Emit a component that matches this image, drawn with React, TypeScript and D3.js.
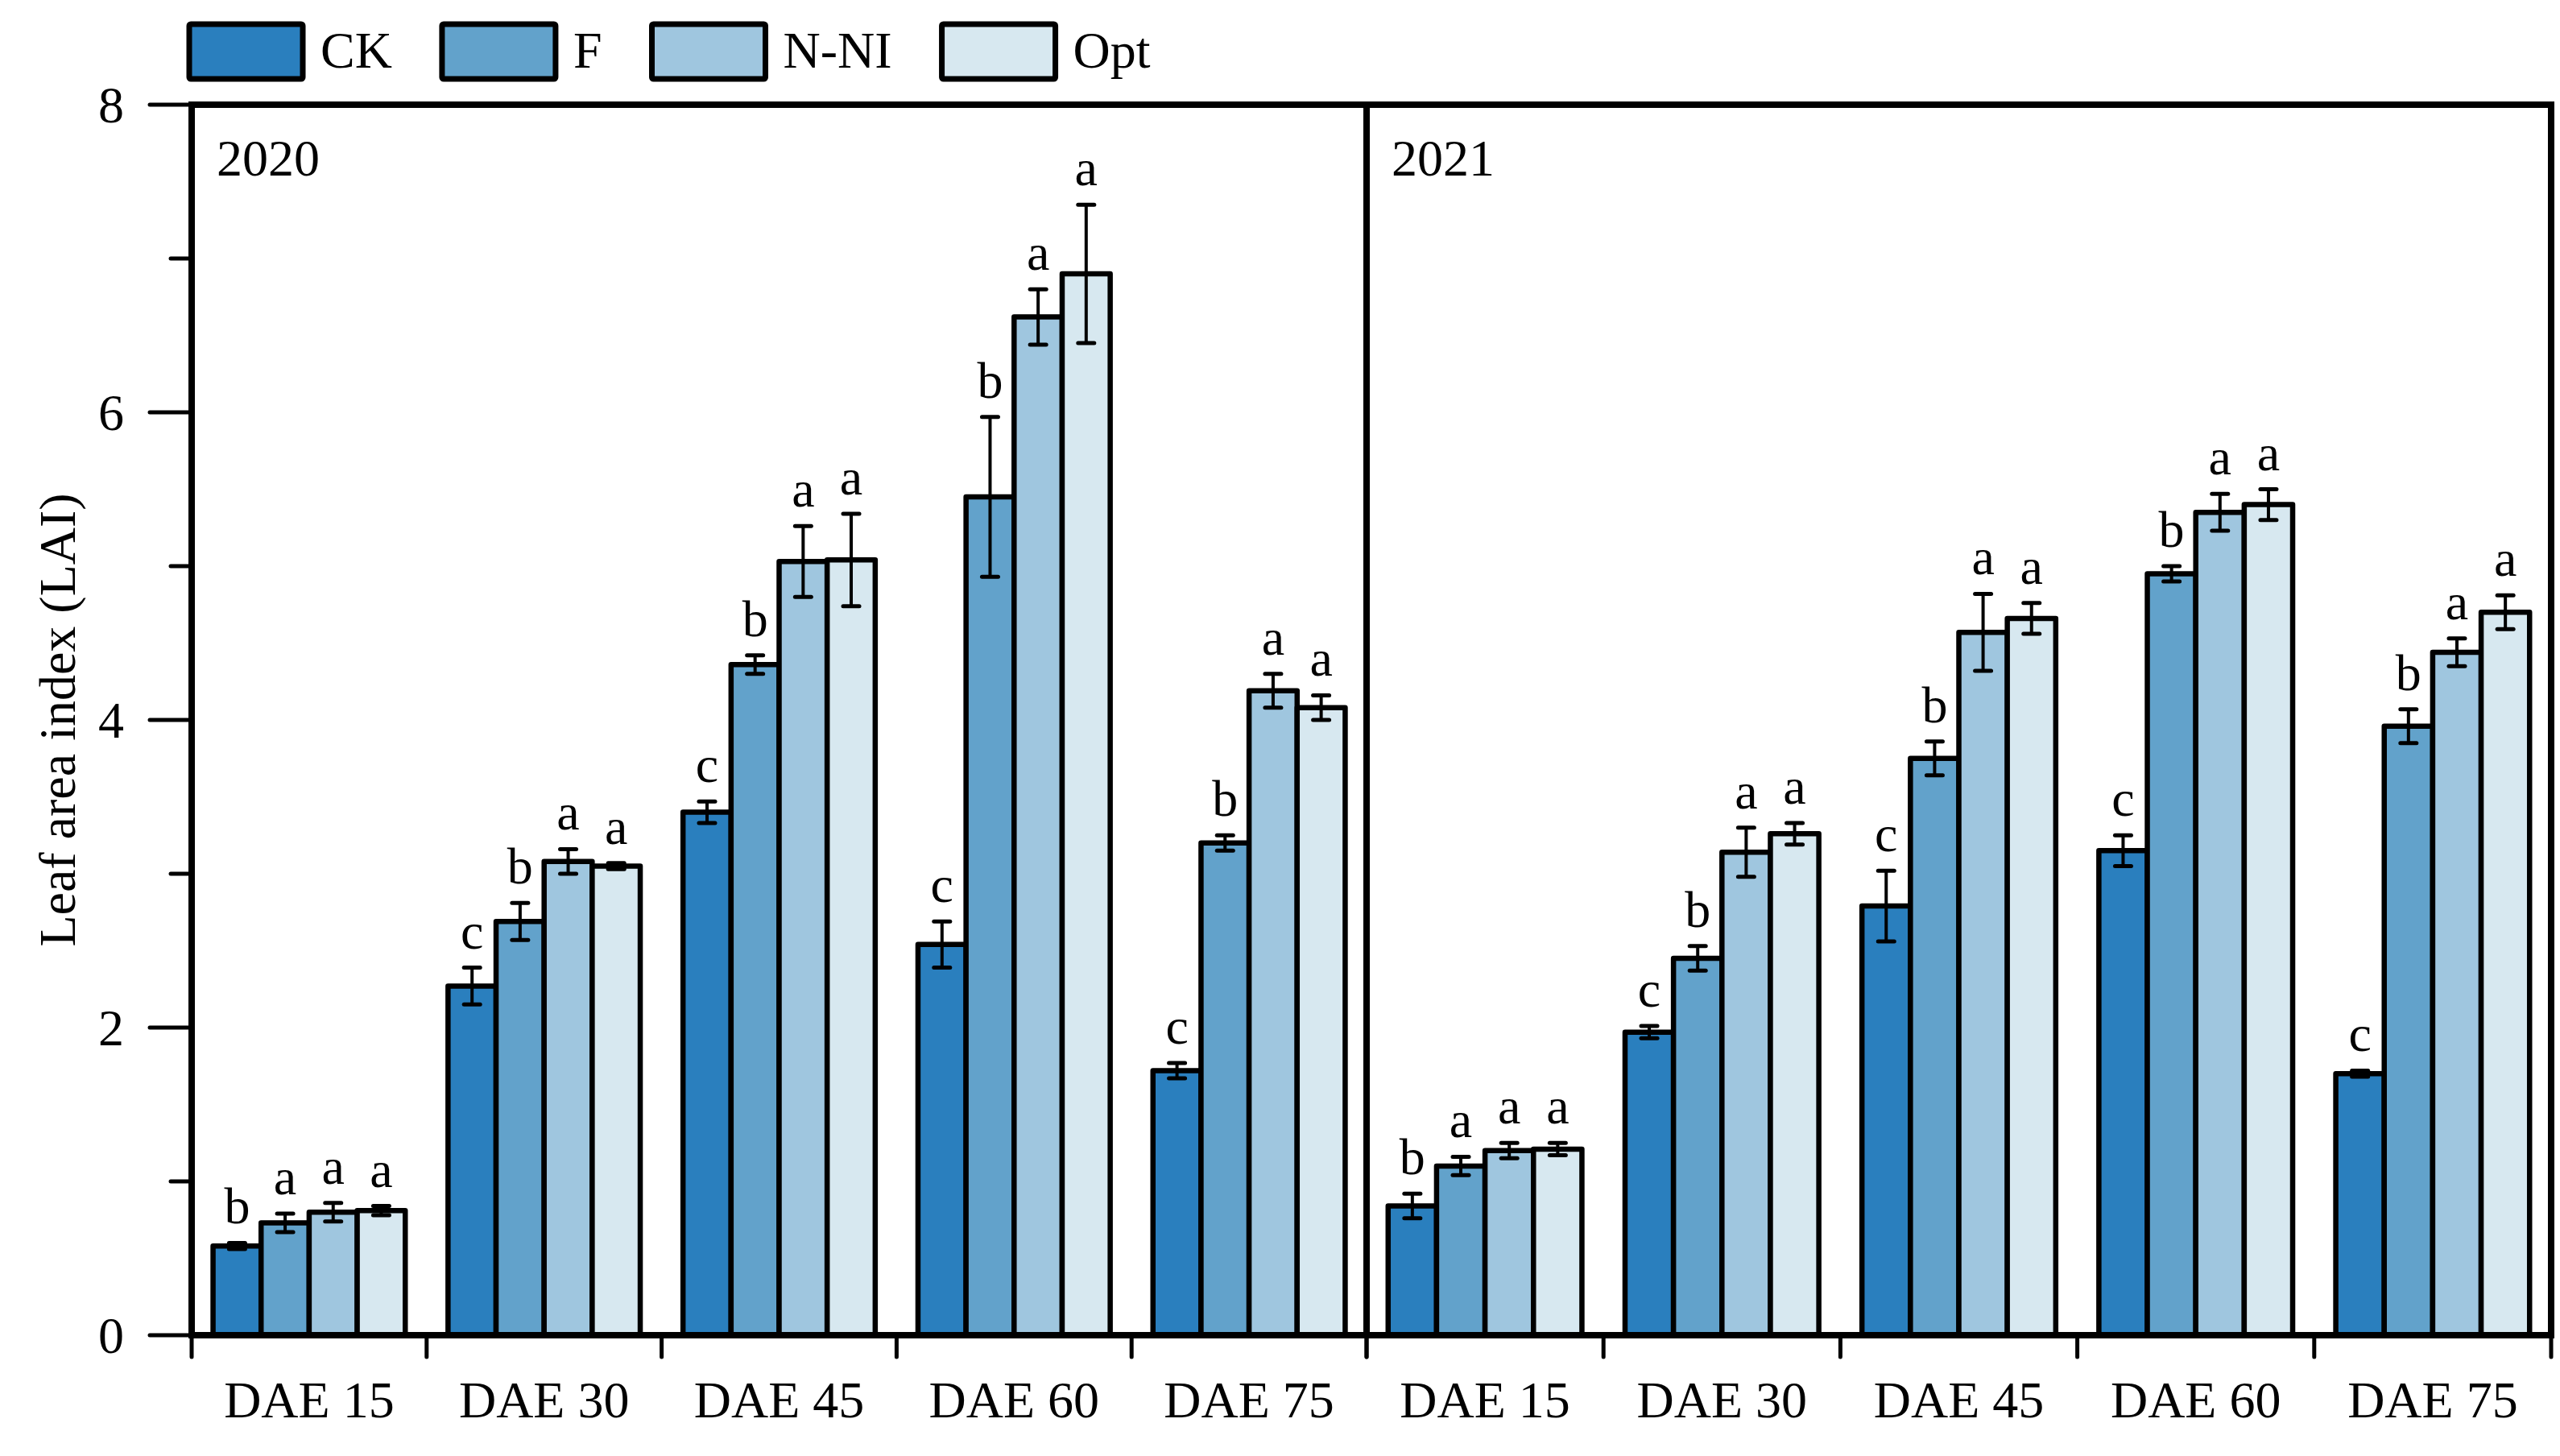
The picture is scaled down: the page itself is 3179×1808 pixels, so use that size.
import React, { useEffect, useRef } from "react"
import * as d3 from "d3"

const stages = ["DAE 15", "DAE 30", "DAE 45", "DAE 60", "DAE 75"]
const treatments = ["CK", "F", "N-NI", "Opt"]
const years = ["2020", "2021"]
const colors = ["#2A7FBE", "#62A2CB", "#9FC6DF", "#D7E8F0"]
const yTicks = [0, 2, 4, 6, 8]
const yMinorTicks = [1, 3, 5, 7]

// rows follow treatments (CK, F, N-NI, Opt), columns follow stages
const mean2020 = [
  [0.58, 2.27, 3.40, 2.54, 1.72],
  [0.73, 2.69, 4.36, 5.45, 3.20],
  [0.80, 3.08, 5.03, 6.62, 4.19],
  [0.81, 3.05, 5.04, 6.90, 4.08],
]
const se2020 = [
  [0.02, 0.12, 0.07, 0.15, 0.05],
  [0.06, 0.12, 0.06, 0.52, 0.05],
  [0.06, 0.08, 0.23, 0.18, 0.11],
  [0.03, 0.02, 0.30, 0.45, 0.08],
]
const sig2020 = [
  ["b", "c", "c", "c", "c"],
  ["a", "b", "b", "b", "b"],
  ["a", "a", "a", "a", "a"],
  ["a", "a", "a", "a", "a"],
]

const mean2021 = [
  [0.84, 1.97, 2.79, 3.15, 1.70],
  [1.10, 2.45, 3.75, 4.95, 3.96],
  [1.20, 3.14, 4.57, 5.35, 4.44],
  [1.21, 3.26, 4.66, 5.40, 4.70],
]
const se2021 = [
  [0.08, 0.04, 0.23, 0.10, 0.02],
  [0.06, 0.08, 0.11, 0.05, 0.11],
  [0.05, 0.16, 0.25, 0.12, 0.09],
  [0.04, 0.07, 0.10, 0.10, 0.11],
]
const sig2021 = [
  ["b", "c", "c", "c", "c"],
  ["a", "b", "b", "b", "b"],
  ["a", "a", "a", "a", "a"],
  ["a", "a", "a", "a", "a"],
]

const means = [mean2020, mean2021]
const ses = [se2020, se2021]
const sigs = [sig2020, sig2021]

const FONT = "'Liberation Serif', 'Times New Roman', serif"

export default function App() {
  const svgRef = useRef<SVGSVGElement>(null)

  useEffect(() => {
    if (!svgRef.current) return
    document.body.style.margin = "0"

    const W = 3179
    const H = 1808
    const svg = d3.select(svgRef.current).attr("width", W).attr("height", H)
    svg.selectAll("*").remove()

    const left = 238
    const mid = 1697
    const right = 3168
    const top = 130
    const bottom = 1658
    const panels = [
      [left, mid],
      [mid, right],
    ]

    const y = d3.scaleLinear().domain([0, 8]).range([bottom, top])

    const g = svg.append("g").attr("font-family", FONT).attr("fill", "#000")

    years.forEach((year, p) => {
      const x = d3.scaleBand().domain(stages).range(panels[p]).paddingInner(0).paddingOuter(0)
      const xi = d3
        .scaleBand()
        .domain(treatments)
        .range([0, x.bandwidth()])
        .paddingInner(0)
        .paddingOuter(0.445)

      const rows: any[] = []
      treatments.forEach((t, ti) => {
        stages.forEach((s, si) => {
          rows.push({
            t,
            ti,
            s,
            v: means[p][ti][si],
            e: ses[p][ti][si],
            l: sigs[p][ti][si],
          })
        })
      })

      const pg = g.append("g")

      // bars
      pg.selectAll("rect.bar")
        .data(rows)
        .enter()
        .append("rect")
        .attr("class", "bar")
        .attr("x", d => (x(d.s) || 0) + (xi(d.t) || 0))
        .attr("y", d => y(d.v))
        .attr("width", xi.bandwidth())
        .attr("height", d => y(0) - y(d.v))
        .attr("fill", d => colors[d.ti])
        .attr("stroke", "#000")
        .attr("stroke-width", 6.5)
        .attr("stroke-linejoin", "round")

      // error bars
      const cx = (d: any) => (x(d.s) || 0) + (xi(d.t) || 0) + xi.bandwidth() / 2
      const eb = pg.selectAll("g.err").data(rows).enter().append("g").attr("class", "err")
      eb.append("line")
        .attr("x1", cx)
        .attr("x2", cx)
        .attr("y1", d => y(d.v + d.e))
        .attr("y2", d => y(d.v - d.e))
        .attr("stroke", "#000")
        .attr("stroke-width", 4)
      ;[1, -1].forEach(sign => {
        eb.append("line")
          .attr("x1", d => cx(d) - 10)
          .attr("x2", d => cx(d) + 10)
          .attr("y1", d => y(d.v + sign * d.e))
          .attr("y2", d => y(d.v + sign * d.e))
          .attr("stroke", "#000")
          .attr("stroke-width", 5)
          .attr("stroke-linecap", "round")
      })

      // significance letters
      pg.selectAll("text.sig")
        .data(rows)
        .enter()
        .append("text")
        .attr("class", "sig")
        .attr("x", cx)
        .attr("y", d => y(d.v + d.e) - 24)
        .attr("text-anchor", "middle")
        .attr("font-size", 64)
        .text(d => d.l)

      // x ticks
      const bounds = stages.map(s => x(s) || 0).concat([panels[p][1]])
      pg.selectAll("line.xt")
        .data(bounds)
        .enter()
        .append("line")
        .attr("x1", d => d)
        .attr("x2", d => d)
        .attr("y1", bottom)
        .attr("y2", bottom + 27)
        .attr("stroke", "#000")
        .attr("stroke-width", 5)
        .attr("stroke-linecap", "round")

      // x labels
      pg.selectAll("text.xl")
        .data(stages)
        .enter()
        .append("text")
        .attr("x", d => (x(d) || 0) + x.bandwidth() / 2)
        .attr("y", bottom + 102)
        .attr("text-anchor", "middle")
        .attr("font-size", 64)
        .text(d => d)

      // year label
      pg.append("text")
        .attr("x", panels[p][0] + 31)
        .attr("y", top + 88)
        .attr("font-size", 64)
        .text(year)
    })

    // frame
    const frame = g.append("g").attr("stroke", "#000").attr("stroke-width", 8).attr("fill", "none")
    frame.append("rect").attr("x", left).attr("y", top).attr("width", right - left).attr("height", bottom - top)
    frame.append("line").attr("x1", mid).attr("x2", mid).attr("y1", top).attr("y2", bottom)

    // y ticks
    g.selectAll("line.yt")
      .data(yTicks)
      .enter()
      .append("line")
      .attr("x1", left - 52)
      .attr("x2", left)
      .attr("y1", d => y(d))
      .attr("y2", d => y(d))
      .attr("stroke", "#000")
      .attr("stroke-width", 5)
      .attr("stroke-linecap", "round")
    g.selectAll("line.ym")
      .data(yMinorTicks)
      .enter()
      .append("line")
      .attr("x1", left - 26)
      .attr("x2", left)
      .attr("y1", d => y(d))
      .attr("y2", d => y(d))
      .attr("stroke", "#000")
      .attr("stroke-width", 5)
      .attr("stroke-linecap", "round")
    g.selectAll("text.yl")
      .data(yTicks)
      .enter()
      .append("text")
      .attr("x", left - 84)
      .attr("y", d => y(d))
      .attr("dy", "0.35em")
      .attr("text-anchor", "end")
      .attr("font-size", 64)
      .text(d => d)

    // y title
    g.append("text")
      .attr("transform", `translate(71,${(top + bottom) / 2}) rotate(-90)`)
      .attr("text-anchor", "middle")
      .attr("dy", "0.35em")
      .attr("font-size", 64)
      .text("Leaf area index (LAI)")

    // legend
    const lg = g.append("g")
    let lx = 235
    treatments.forEach((t, i) => {
      lg.append("rect")
        .attr("x", lx)
        .attr("y", 30)
        .attr("width", 141)
        .attr("height", 68)
        .attr("fill", colors[i])
        .attr("stroke", "#000")
        .attr("stroke-width", 7)
        .attr("rx", 2)
      const txt = lg
        .append("text")
        .attr("x", lx + 163)
        .attr("y", 84)
        .attr("font-size", 64)
        .text(t)
      const w = (txt.node() as SVGTextElement).getComputedTextLength()
      lx = lx + 163 + w + 62
    })
  }, [])

  return <svg ref={svgRef} style={{ display: "block" }}></svg>
}
